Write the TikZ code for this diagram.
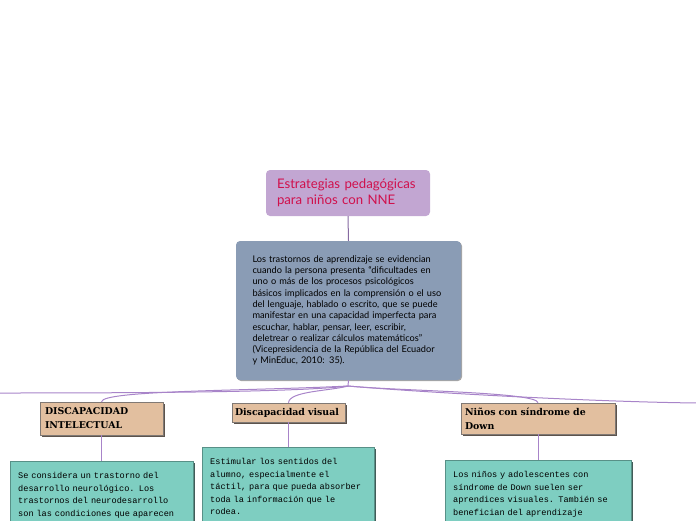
\documentclass[tikz,border=0pt]{standalone}
\usepackage{fontspec}
\setmainfont{Lato}
\newfontfamily\headfont{DejaVu Serif}
\newfontfamily\monofont{Liberation Mono}
\usetikzlibrary{shadows}
\definecolor{rootfill}{HTML}{C2A6D2}
\definecolor{roottext}{HTML}{D0104C}
\definecolor{infofill}{HTML}{8A9CB5}
\definecolor{tanfill}{HTML}{E2BF9F}
\definecolor{greenfill}{HTML}{7ECEC1}
\definecolor{linecol}{HTML}{A884C9}
\definecolor{tanshadow}{HTML}{4A4038}
\definecolor{greenshadow}{HTML}{2E4A46}
\tikzset{
  rootbox/.style={fill=rootfill, rounded corners=4pt, minimum width=164pt, minimum height=46pt,
    text width=142pt, align=left, inner sep=0pt, text=roottext,
    font=\fontsize{13.2}{16}\selectfont},
  infobox/.style={fill=infofill, rounded corners=4pt, minimum width=225pt, minimum height=139pt,
    text width=192pt, align=left, inner sep=0pt, font=\fontsize{9.2}{11.3}\selectfont,
    drop shadow={shadow xshift=1pt, shadow yshift=-1pt, opacity=0.35, fill=black}},
  headbox/.style={fill=tanfill, draw=tanshadow!70, line width=0.4pt, inner sep=0pt,
    align=left, font=\headfont\bfseries\fontsize{9.4}{14}\selectfont,
    drop shadow={shadow xshift=2pt, shadow yshift=-2pt, opacity=0.9, fill=tanshadow}},
  greenbox/.style={fill=greenfill, draw=greenfill!70!black, line width=0.4pt, anchor=north west,
    inner xsep=8pt, inner ysep=11pt, align=left, text depth=60pt,
    font=\monofont\fontsize{8.6}{12.6}\selectfont,
    drop shadow={shadow xshift=2pt, shadow yshift=-2pt, opacity=0.9, fill=greenshadow}},
  conn/.style={draw=linecol, line width=1pt},
}
\begin{document}
\begin{tikzpicture}[x=1pt, y=-1pt]
\useasboundingbox (0,0) rectangle (696,520);
\clip (0,0) rectangle (696,520);

\coordinate (J) at (348,386);
\coordinate (offL) at (-2,393);
\coordinate (offR) at (698,403);

\node[rootbox] (root) at (348,193) {Estrategias pedagógicas\\para niños con NNE};
\node[infobox] (info) at (348.5,310.5) {Los trastornos de aprendizaje se evidencian\\
cuando la persona presenta “dificultades en\\
uno o más de los procesos psicológicos\\
básicos implicados en la comprensión o el uso\\
del lenguaje, hablado o escrito, que se puede\\
manifestar en una capacidad imperfecta para\\
escuchar, hablar, pensar, leer, escribir,\\
deletrear o realizar cálculos matemáticos”\\
(Vicepresidencia de la República del Ecuador\\
y MinEduc, 2010: 35).};

\node[headbox, minimum width=123pt, minimum height=33pt, text width=113pt] (inte) at (101.5,418.5) {DISCAPACIDAD\\INTELECTUAL};
\node[headbox, minimum width=113pt, minimum height=19pt, text width=107pt] (vis) at (288.5,412.5) {Discapacidad visual};
\node[headbox, minimum width=154pt, minimum height=31pt, text width=146pt] (down) at (538,418.5) {Niños con síndrome de\\Down};

\node[greenbox, minimum width=183pt, text width=167pt] (g1) at (10,461) {Se considera un trastorno del\\desarrollo neurológico. Los\\trastornos del neurodesarrollo\\son las condiciones que aparecen};
\node[greenbox, minimum width=172pt, text width=156pt] (g2) at (202,447) {Estimular  los sentidos del\\alumno, especialmente el\\táctil, para que pueda absorber\\toda la información que le\\rodea.};
\node[greenbox, minimum width=186pt, text width=170pt] (g3) at (445,460) {Los niños y adolescentes con\\síndrome de Down suelen ser\\aprendices visuales. También se\\benefician del aprendizaje};

\draw[conn, draw=linecol!80!black] (root.south) -- (info.north);
\draw[conn] (info.south) -- (J);
\draw[conn] (J) .. controls (300,392) and (150,393) .. (offL);
\draw[conn] (J) .. controls (250,391) and (102,390) .. (inte.north);
\draw[conn] (J) .. controls (330,391) and (289,391) .. (vis.north);
\draw[conn] (J) .. controls (400,391) and (538,392) .. (down.north);
\draw[conn] (J) .. controls (430,393) and (600,402) .. (offR);
\draw[conn, line width=0.8pt] (inte.south) -- (inte.south |- g1.north);
\draw[conn, line width=0.8pt] (vis.south) -- (vis.south |- g2.north);
\draw[conn, line width=0.8pt] (down.south) -- (down.south |- g3.north);
\end{tikzpicture}
\end{document}
